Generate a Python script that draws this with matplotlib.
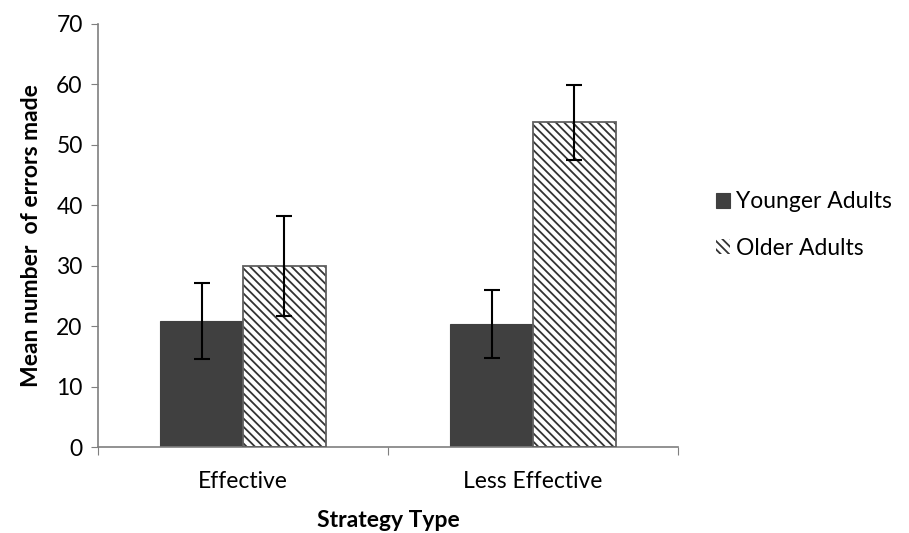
import matplotlib
matplotlib.use("Agg")
import matplotlib.pyplot as plt
import numpy as np

categories = ["Effective", "Less Effective"]
series_names = ["Younger Adults", "Older Adults"]
younger = [20.9, 20.3]
older = [29.9, 53.7]
younger_err = [6.3, 5.6]
older_err = [8.3, 6.2]
y_ticks = [0, 10, 20, 30, 40, 50, 60, 70]

plt.rcParams['font.family'] = ['Lato', 'DejaVu Sans']
plt.rcParams['hatch.linewidth'] = 1.3

fig = plt.figure(figsize=(9.09, 5.33), dpi=100)
ax = fig.add_axes([98/909, 86/533, 580/909, 423/533])

x = np.arange(len(categories))
w = 0.286
gray = '#7f7f7f'
fs = 16.5

b1 = ax.bar(x - w/2, younger, w, color='#404040', edgecolor='#404040', linewidth=0.8,
            label=series_names[0], zorder=2)
b2 = ax.bar(x + w/2, older, w, color='white', edgecolor='#333333', hatch='\\\\\\\\',
            linewidth=0, zorder=2, label=series_names[1])
ax.bar(x + w/2, older, w, fill=False, edgecolor='#606060', linewidth=1.3, zorder=3)

ax.errorbar(x - w/2, younger, yerr=younger_err, fmt='none', ecolor='black',
            elinewidth=1.5, capsize=5.5, capthick=1.5, zorder=4)
ax.errorbar(x + w/2, older, yerr=older_err, fmt='none', ecolor='black',
            elinewidth=1.5, capsize=5.5, capthick=1.5, zorder=4)

ax.set_xlim(-0.5, 1.5)
ax.set_ylim(0, 70)
ax.set_yticks(y_ticks)
ax.set_xticks([-0.5, 0.5, 1.5])
ax.set_xticklabels([])
ax.set_xticks(x, minor=True)
ax.set_xticklabels(categories, minor=True)
ax.tick_params(axis='x', which='minor', length=0, pad=17, labelsize=fs)
ax.tick_params(axis='x', which='major', length=6, color=gray, direction='out')
ax.tick_params(axis='y', length=5, color=gray, labelsize=fs, pad=6)

for s in ['top', 'right']:
    ax.spines[s].set_visible(False)
for s in ['left', 'bottom']:
    ax.spines[s].set_color(gray)
    ax.spines[s].set_linewidth(1.2)

ax.set_ylabel("Mean number  of errors made", fontsize=fs, fontweight='bold', labelpad=10)
ax.set_xlabel("Strategy Type", fontsize=fs, fontweight='bold', labelpad=13)

leg = ax.legend(loc='center left', bbox_to_anchor=(1.03, 0.525), frameon=False,
                fontsize=fs, handlelength=0.6, handleheight=0.6, handletextpad=0.25,
                labelspacing=1.1)

fig.savefig("out.png", dpi=100)
